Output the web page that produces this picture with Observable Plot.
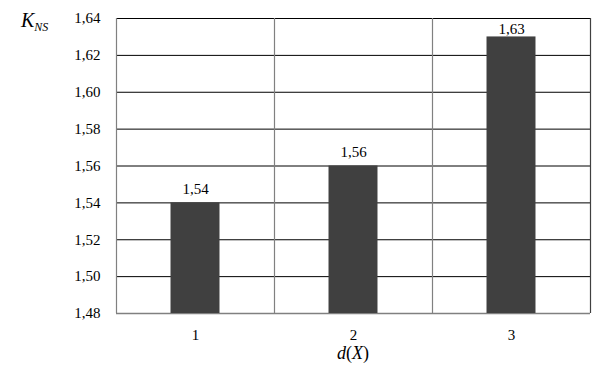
<!DOCTYPE html>
<html>
<head>
<meta charset="utf-8">
<script src="https://cdn.jsdelivr.net/npm/d3@7"></script>
<script src="https://cdn.jsdelivr.net/npm/@observablehq/plot@0.6"></script>
<style>
  html, body { margin: 0; padding: 0; background: #fff; }
  #chart { width: 607px; height: 369px; }
</style>
</head>
<body>
<div id="chart"></div>
<script>
const categories = [1, 2, 3];
const values = [1.54, 1.56, 1.63];
const yTicks = [1.48, 1.50, 1.52, 1.54, 1.56, 1.58, 1.60, 1.62, 1.64];
const xLabel = ["d", "(", "X", ")"];
const yLabel = ["K", "NS"];

const data = categories.map((c, i) => ({d: c, k: values[i]}));
const comma = v => v.toFixed(2).replace(".", ",");
const halfBar = 0.155;
const SERIF = "Liberation Serif";
const nearTop = d => d.k > 1.62;

const plot = Plot.plot({
  width: 607,
  height: 369,
  marginTop: 18,
  marginBottom: 56,
  marginLeft: 116,
  marginRight: 17,
  x: {domain: [0.5, 3.5], axis: null},
  y: {domain: [1.48, 1.64], axis: null},
  marks: [
    Plot.ruleY(yTicks.slice(1), {stroke: "#000", strokeWidth: 1}),
    Plot.ruleX([1.5, 2.5], {stroke: "#808080", strokeWidth: 1.2}),
    Plot.ruleX([0.5], {stroke: "#808080", strokeWidth: 1.2}),
    Plot.ruleX([3.5], {stroke: "#404040", strokeWidth: 1.2}),
    Plot.ruleY([1.48], {stroke: "#808080", strokeWidth: 1.5}),
    Plot.rect(data, {x1: d => d.d - halfBar, x2: d => d.d + halfBar, y1: 1.48, y2: "k", fill: "#404040"}),
    Plot.text(data.filter(d => !nearTop(d)), {x: "d", y: "k", text: d => comma(d.k), lineAnchor: "bottom", dy: -9, fill: "#000", fontSize: 15, fontFamily: SERIF}),
    Plot.text(data.filter(nearTop), {x: "d", y: "k", text: d => comma(d.k), lineAnchor: "bottom", dy: -3, fill: "#000", fontSize: 15, fontFamily: SERIF}),
    Plot.axisY(yTicks, {tickSize: 0, tickPadding: 16, tickFormat: comma, fontSize: 15, fontFamily: SERIF, label: null}),
    Plot.axisX(categories, {tickSize: 0, tickPadding: 16, tickFormat: d => String(d), fontSize: 15, fontFamily: SERIF, label: null})
  ]
});

document.getElementById("chart").appendChild(plot);

const svg = d3.select(plot);
svg.attr("font-family", SERIF);
svg.selectAll("g").attr("font-variant", null);
svg.selectAll("text").attr("font-family", SERIF).attr("font-size", 15);

const xs = plot.scale("x");

const xl = svg.append("text")
  .attr("x", xs.apply(2))
  .attr("y", 359)
  .attr("text-anchor", "middle")
  .attr("font-family", SERIF)
  .attr("font-size", 18)
  .attr("fill", "#000");
xl.append("tspan").attr("font-style", "italic").text(xLabel[0]);
xl.append("tspan").text(xLabel[1]);
xl.append("tspan").attr("font-style", "italic").text(xLabel[2]);
xl.append("tspan").text(xLabel[3]);

const yl = svg.append("text")
  .attr("x", 21)
  .attr("y", 27)
  .attr("text-anchor", "start")
  .attr("font-family", SERIF)
  .attr("fill", "#000");
yl.append("tspan").attr("font-style", "italic").attr("font-size", 20).text(yLabel[0]);
yl.append("tspan").attr("font-style", "italic").attr("font-size", 12).attr("dy", 4).text(yLabel[1]);
</script>
</body>
</html>
